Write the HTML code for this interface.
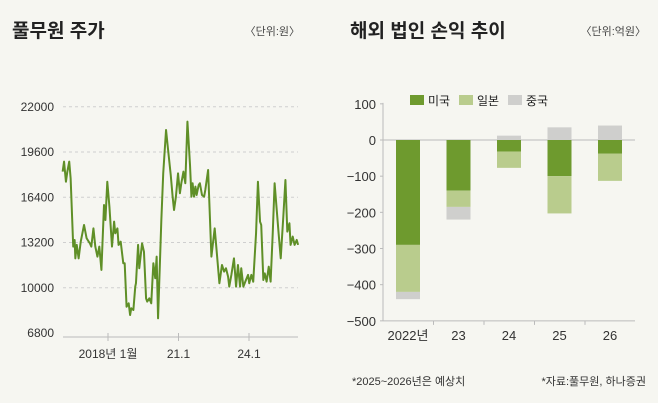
<!DOCTYPE html>
<html><head><meta charset="utf-8"><style>
body{margin:0;background:#f6f6f1;}
svg{display:block;font-family:"Liberation Sans","Noto Sans CJK KR",sans-serif;}
</style></head><body>
<svg id="c" width="658" height="403">
<rect width="658" height="403" fill="#f6f6f1"/>
<text x="12" y="37" font-size="19" font-weight="bold" fill="#222">풀무원 주가</text>
<text x="300" y="35" font-size="11" fill="#444" text-anchor="end">〈단위:원〉</text>
<text x="350" y="37" font-size="19" font-weight="bold" fill="#222">해외 법인 손익 추이</text>
<text x="646" y="35" font-size="11" fill="#444" text-anchor="end">〈단위:억원〉</text>
<text x="352" y="385" font-size="11" fill="#333">*2025~2026년은 예상치</text>
<text x="646" y="385" font-size="11" fill="#333" text-anchor="end">*자료:풀무원, 하나증권</text>
<g id="L"></g><g id="R"></g>
</svg>
<script>
const years=[2016.07,2016.13,2016.21,2016.27,2016.35,2016.41,2016.52,2016.58,2016.61,2016.67,2016.75,2016.84,2016.98,2017.09,2017.18,2017.23,2017.29,2017.38,2017.46,2017.55,2017.63,2017.72,2017.83,2017.89,2017.97,2018.06,2018.17,2018.26,2018.31,2018.40,2018.45,2018.54,2018.65,2018.71,2018.79,2018.88,2018.94,2018.99,2019.08,2019.16,2019.19,2019.28,2019.33,2019.45,2019.53,2019.62,2019.67,2019.76,2019.84,2019.93,2020.01,2020.07,2020.13,2020.27,2020.35,2020.47,2020.55,2020.67,2020.75,2020.81,2020.89,2020.98,2021.06,2021.12,2021.21,2021.29,2021.38,2021.49,2021.55,2021.60,2021.66,2021.72,2021.77,2021.86,2021.91,2022.00,2022.09,2022.14,2022.26,2022.40,2022.54,2022.62,2022.74,2022.85,2022.94,2023.02,2023.11,2023.16,2023.25,2023.36,2023.45,2023.53,2023.62,2023.67,2023.76,2023.87,2023.96,2024.01,2024.10,2024.18,2024.30,2024.38,2024.47,2024.52,2024.61,2024.67,2024.75,2024.84,2024.92,2025.01,2025.09,2025.18,2025.26,2025.35,2025.46,2025.55,2025.63,2025.72,2025.77,2025.86,2025.94,2026.03,2026.09];
const prices=[18210,18920,17500,18210,18920,17740,12910,13380,12080,13030,12080,13260,14440,13500,13260,13140,12910,14200,12910,12200,12910,11260,15850,14790,17500,15740,12910,14680,13850,14200,13030,13260,11730,11730,8660,8900,8070,8550,8430,10080,10320,13030,11380,13140,12550,9250,9020,9250,8900,11730,10670,12200,7840,14790,18090,21160,19860,17970,16440,15500,16440,18090,16680,17390,18210,17390,21750,18680,16440,17390,16440,17150,16560,17270,17390,16560,16440,16910,18330,12200,14200,12670,10320,11610,11140,11380,10790,10080,10910,12080,10080,11610,10080,11380,10080,10550,10910,10320,10910,10430,13850,17500,14670,14440,10550,11020,10430,11490,10430,13850,17390,15500,13850,12080,15030,17620,13970,14560,13030,13620,13030,13380,13030];
const yTicks=[6800,10000,13200,16400,19600,22800];
const yTickLabels=['6800','10000','13200','16400','19600','22000'];
const xTicks=[2018,2021,2024];
const xTickLabels=['2018년 1월','21.1','24.1'];

const cats=['2022년','23','24','25','26'];
const usVals=[-290,-140,-32,-100,-38];
const jpVals=[-130,-45,-45,-103,-75];
const cnVals=[-20,-35,12,35,40];
const rTicks=[100,0,-100,-200,-300,-400,-500];

const NS='http://www.w3.org/2000/svg';
function mk(p,t,a,txt){const e=document.createElementNS(NS,t);for(const k in a)e.setAttribute(k,a[k]);if(txt!==undefined)e.textContent=txt;p.appendChild(e);return e;}
const L=document.getElementById('L'),R=document.getElementById('R');
const lx=y=>108+(y-2018)*23.5, ly=p=>333-(p-6800)/70.72;
yTicks.forEach((v,i)=>{
  if(i>0){
    const g=mk(L,'line',{x1:63,x2:298,y1:ly(v),y2:ly(v),stroke:'#cfcfcf','stroke-dasharray':'3,3'});
    
  }
  const t=mk(L,'text',{x:54,y:ly(v)+4,'font-size':12,'text-anchor':'end',fill:'#333'},yTickLabels[i]);
  
});
const ax=mk(L,'line',{x1:63,x2:298,y1:337,y2:337,stroke:'#bbb'});

xTicks.forEach((v,i)=>{
  mk(L,'line',{x1:lx(v),x2:lx(v),y1:333,y2:341,stroke:'#bbb'});
  const t=mk(L,'text',{x:lx(v),y:358,'font-size':12,'text-anchor':'middle',fill:'#333'},xTickLabels[i]);
  
});
const pl=mk(L,'polyline',{points:years.map((y,i)=>lx(y)+','+ly(prices[i])).join(' '),fill:'none',stroke:'#5f8f27','stroke-width':2,'stroke-linejoin':'round'});


const ry=v=>140-v*0.3617, cx=i=>408+i*50.5, bw=24;
rTicks.forEach(v=>{
  mk(R,'line',{x1:380,x2:383,y1:ry(v),y2:ry(v),stroke:'#bbb'});
  const t=mk(R,'text',{x:376,y:ry(v)+5,'font-size':13,'text-anchor':'end',fill:'#333'},v<0?'−'+(-v):String(v));
  
});
mk(R,'line',{x1:383,x2:383,y1:ry(100)-1,y2:ry(-500),stroke:'#bbb'});
const zl=mk(R,'line',{x1:383,x2:635,y1:ry(0),y2:ry(0),stroke:'#bbb'});

mk(R,'line',{x1:383,x2:635,y1:ry(-500),y2:ry(-500),stroke:'#bbb'});
cats.forEach((c,i)=>{
  if(i>0)mk(R,'line',{x1:cx(i)-25,x2:cx(i)-25,y1:ry(-500),y2:ry(-500)+4,stroke:'#bbb'});
  const t=mk(R,'text',{x:cx(i),y:340,'font-size':13,'text-anchor':'middle',fill:'#333'},c);
  
  let neg=0,pos=0;
  [[usVals[i],'#6e9a2e','bar-us'],[jpVals[i],'#b9cc8d','bar-japan'],[cnVals[i],'#cfcfcd','bar-china']].forEach(([v,col,n])=>{
    let a,b;
    if(v<0){a=neg;b=neg+v;neg=b;}else{a=pos;b=pos+v;pos=b;}
    const r=mk(R,'rect',{x:cx(i)-bw/2,width:bw,y:ry(Math.max(a,b)),height:Math.abs(ry(a)-ry(b)),fill:col});
    
  });
});
[['미국','#6e9a2e',410],['일본','#b9cc8d',459],['중국','#cfcfcd',508]].forEach(([n,col,x])=>{
  const r=mk(R,'rect',{x:x,y:95,width:14,height:10,fill:col});
  
  const t=mk(R,'text',{x:x+18,y:105,'font-size':12,fill:'#222'},n);
  
});
</script>
</body></html>
